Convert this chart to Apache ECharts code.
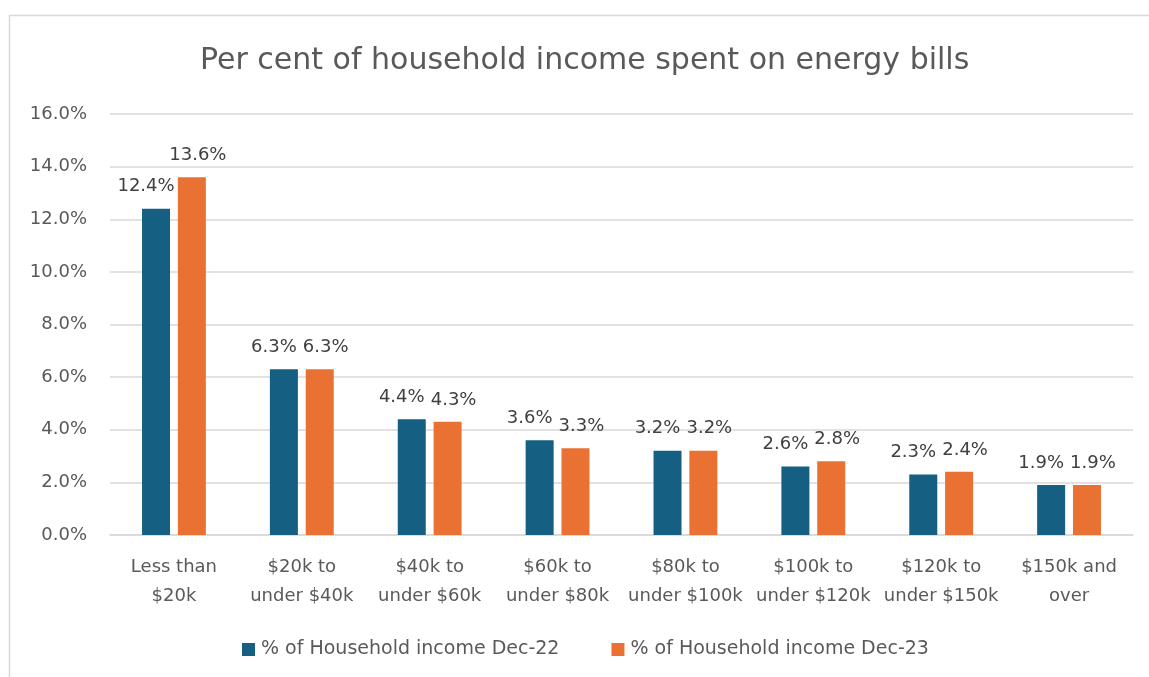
<!DOCTYPE html>
<html>
<head>
<meta charset="utf-8">
<script src="https://cdn.jsdelivr.net/npm/echarts@6/dist/echarts.min.js"></script>
<style>html,body{margin:0;padding:0;background:#fff;}#c{width:1149px;height:677px;}</style>
</head>
<body>
<div id="c"></div>
<script>
const titleText = 'Per cent of household income spent on energy bills';
const categories = ['Less than\n$20k', '$20k to\nunder $40k', '$40k to\nunder $60k', '$60k to\nunder $80k', '$80k to\nunder $100k', '$100k to\nunder $120k', '$120k to\nunder $150k', '$150k and\nover'];
const seriesNames = ['% of Household income Dec-22', '% of Household income Dec-23'];
const dec22 = [12.4, 6.3, 4.4, 3.6, 3.2, 2.6, 2.3, 1.9];
const dec23 = [13.6, 6.3, 4.3, 3.3, 3.2, 2.8, 2.4, 1.9];
const colors = ['#156082', '#E97132'];
const FONT = '"DejaVu Sans", sans-serif';

const chart = echarts.init(document.getElementById('c'), null, {renderer: 'canvas'});
function labelCfg(dx) {
  return {
    show: true, position: 'top', distance: 13, offset: [dx, 0],
    color: '#404040', fontSize: 18, fontFamily: FONT,
    formatter: p => p.value.toFixed(1) + '%'
  };
}
chart.setOption({
  animation: false,
  backgroundColor: '#fff',
  color: colors,
  title: {
    text: titleText, left: 195, top: 41,
    textStyle: {color: '#595959', fontSize: 30, fontWeight: 'normal', fontFamily: FONT}
  },
  graphic: [{
    type: 'rect', shape: {x: 9.5, y: 15.5, width: 1200, height: 700},
    style: {fill: 'none', stroke: '#d9d9d9', lineWidth: 1.5}, silent: true
  }],
  legend: {
    bottom: 13, left: 237, itemWidth: 13, itemHeight: 13, itemGap: 52,
    icon: 'rect',
    textStyle: {color: '#595959', fontSize: 19, fontFamily: FONT, padding: [0, 0, 0, 1]},
    data: seriesNames
  },
  grid: {left: 110, right: 16, top: 114, bottom: 142},
  xAxis: {
    type: 'category', data: categories,
    axisLine: {lineStyle: {color: '#d9d9d9', width: 1.5}},
    axisTick: {show: false},
    axisLabel: {interval: 0, color: '#595959', fontSize: 18, fontFamily: FONT, lineHeight: 29, margin: 18}
  },
  yAxis: {
    type: 'value', min: 0, max: 16, interval: 2,
    axisLine: {show: false}, axisTick: {show: false},
    splitLine: {lineStyle: {color: '#d9d9d9', width: 1.5}},
    axisLabel: {color: '#595959', fontSize: 18, fontFamily: FONT, margin: 23,
      formatter: v => v.toFixed(1) + '%'}
  },
  series: [
    {name: seriesNames[0], type: 'bar', data: dec22, barWidth: 28, barGap: '28%', label: labelCfg(-10)},
    {name: seriesNames[1], type: 'bar', data: dec23, barWidth: 28, barGap: '28%', label: labelCfg(6)}
  ]
});
</script>
</body>
</html>
